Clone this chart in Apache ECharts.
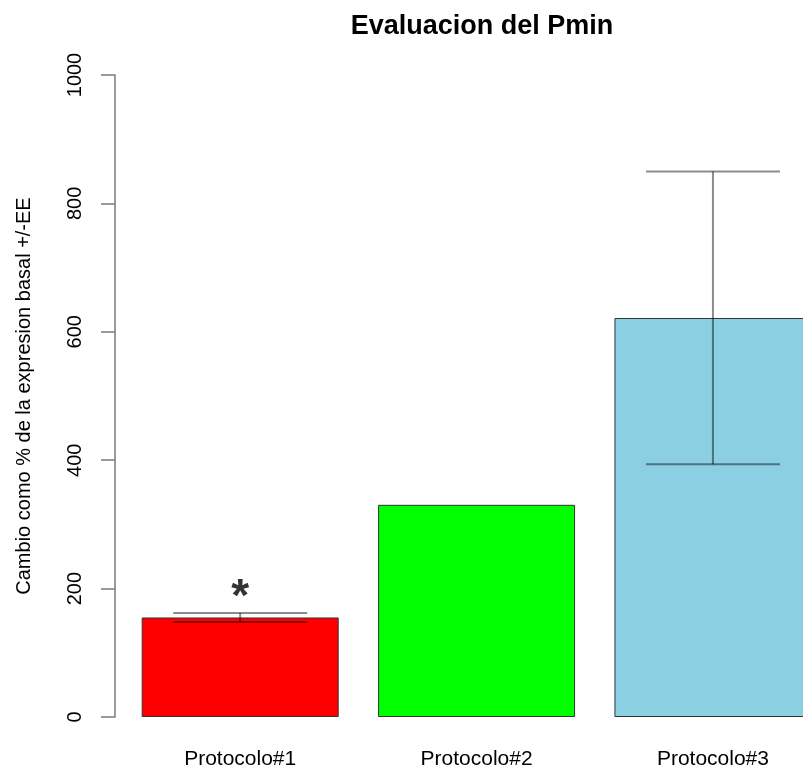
<!DOCTYPE html>
<html><head><meta charset="utf-8">
<script src="https://cdn.jsdelivr.net/npm/echarts@6/dist/echarts.min.js"></script>
<style>html,body{margin:0;padding:0;background:#fff}#c{width:803px;height:772px}</style>
</head><body><div id="c"></div>
<script>
var categories = ['Protocolo#1', 'Protocolo#2', 'Protocolo#3'];
var means = [155, 330.5, 621.5];
var errors = [7, 0, 228];
var barColors = ['#FF0000', '#00FF00', '#8BCFE3'];
var yTicks = [0, 200, 400, 600, 800, 1000];
var starValue = 204;

var chart = echarts.init(document.getElementById('c'), null, {renderer: 'canvas'});
var FONT = '"Liberation Sans", Arial, Helvetica, sans-serif';

var barData = means.map(function (v, i) {
  return {value: [i, v], itemStyle: {color: barColors[i]}};
});
var errData = means.map(function (v, i) {
  return [i, v - errors[i], v + errors[i]];
});

chart.setOption({
  animation: false,
  backgroundColor: '#ffffff',
  title: {
    text: 'Evaluacion del Pmin',
    left: 477, top: 8, textAlign: 'center',
    textStyle: {fontFamily: FONT, fontWeight: 'bold', fontSize: 27, color: '#000'}
  },
  grid: {left: 122, top: 75, right: 0, height: 642, containLabel: false},
  xAxis: {
    type: 'value', min: -0.5, max: 2.381, interval: 0.5,
    splitLine: {show: false},
    axisLine: {show: false, onZero: false}, axisTick: {show: false},
    axisLabel: {
      fontFamily: FONT, fontSize: 21, color: '#000', margin: 32,
      showMinLabel: true, showMaxLabel: false,
      formatter: function (v) {
        var r = Math.round(v);
        return (Math.abs(v - r) < 1e-6 && r >= 0 && r < categories.length) ? categories[r] : '';
      }
    }
  },
  yAxis: {
    type: 'value', min: yTicks[0], max: yTicks[yTicks.length - 1], interval: 200,
    offset: 7,
    splitLine: {show: false},
    axisLine: {show: true, onZero: false, lineStyle: {color: '#7a7a7a', width: 1.5}},
    axisTick: {show: true, length: 14, lineStyle: {color: '#7a7a7a', width: 1.5}},
    axisLabel: {fontFamily: FONT, fontSize: 20, color: '#000', rotate: 90, margin: 30,
                formatter: function (v) { return String(v); }},
    name: 'Cambio como % de la expresion basal +/-EE',
    nameLocation: 'middle', nameRotate: 90, nameGap: 81,
    nameTextStyle: {fontFamily: FONT, fontSize: 20, color: '#000'}
  },
  series: [
    {
      type: 'bar', data: barData, barWidth: 197,
      itemStyle: {borderColor: '#333', borderWidth: 1}
    },
    {
      type: 'custom', data: errData, z: 5,
      renderItem: function (params, api) {
        var x = api.value(0), lo = api.value(1), hi = api.value(2);
        if (hi - lo <= 0) return {type: 'group', children: []};
        var pLo = api.coord([x, lo]), pHi = api.coord([x, hi]);
        var half = 67;
        var st = {stroke: 'rgba(0,0,0,0.45)', lineWidth: 2};
        return {type: 'group', children: [
          {type: 'line', shape: {x1: pLo[0], y1: pLo[1], x2: pHi[0], y2: pHi[1]}, style: st},
          {type: 'line', shape: {x1: pLo[0] - half, y1: pLo[1], x2: pLo[0] + half, y2: pLo[1]}, style: st},
          {type: 'line', shape: {x1: pHi[0] - half, y1: pHi[1], x2: pHi[0] + half, y2: pHi[1]}, style: st}
        ]};
      }
    },
    {
      type: 'scatter', symbolSize: 0, z: 6,
      data: [[0, starValue]],
      label: {show: true, formatter: '*', position: 'inside', fontFamily: FONT,
              fontSize: 46, fontWeight: 'bold', color: '#000', offset: [0, 12]}
    }
  ]
});
</script></body></html>
